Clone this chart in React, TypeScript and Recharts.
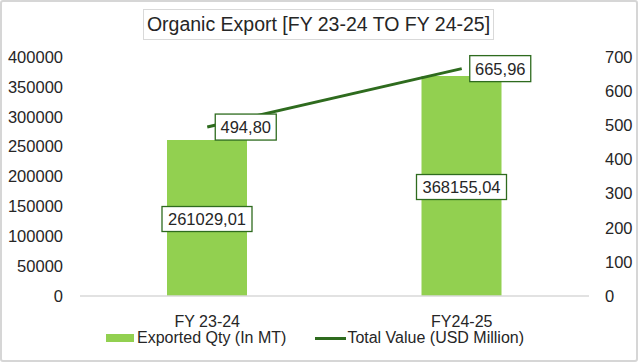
import {
  Bar,
  ComposedChart,
  LabelList,
  Legend,
  Line,
  XAxis,
  YAxis
} from "recharts";

const years = ["FY 23-24", "FY24-25"];
const exportedQty = [261029.01, 368155.04];
const totalValue = [494.8, 665.96];
const qtyTicks = [0, 50000, 100000, 150000, 200000, 250000, 300000, 350000, 400000];
const valueTicks = [0, 100, 200, 300, 400, 500, 600, 700];

const data = years.map((year, i) => ({
  year,
  qty: exportedQty[i],
  value: totalValue[i]
}));

const FONT = "'Liberation Sans', Arial, sans-serif";
const BAR_GREEN = "#92d050";
const LINE_GREEN = "#2e6b1e";
const TEXT = "#262626";

const fmt = (v: number) => v.toFixed(2).replace(".", ",");

// boxed data label, centred on the bar
function BarBoxLabel(props: any) {
  const { x, y, width, height, value } = props;
  const cx = x + width / 2;
  const cy = y + height / 2 + 1;
  const w = 90;
  const h = 25;
  return (
    <g>
      <rect x={cx - w / 2} y={cy - h / 2} width={w} height={h} fill="#fff" stroke={LINE_GREEN} strokeWidth={1.3} />
      <text x={cx} y={cy} textAnchor="middle" dominantBaseline="central" fontSize={16.5} fill={TEXT} fontFamily={FONT}>
        {fmt(value)}
      </text>
    </g>
  );
}

// boxed data label, to the right of the point
function LineBoxLabel(props: any) {
  const { x, y, value } = props;
  const w = 61;
  const h = 26;
  const left = x + 8;
  return (
    <g>
      <rect x={left} y={y - h / 2} width={w} height={h} fill="#fff" stroke={LINE_GREEN} strokeWidth={1.3} />
      <text x={left + w / 2} y={y} textAnchor="middle" dominantBaseline="central" fontSize={16.5} fill={TEXT} fontFamily={FONT}>
        {fmt(value)}
      </text>
    </g>
  );
}

function LegendContent() {
  return (
    <div style={{ display: "flex", alignItems: "center", fontFamily: FONT, fontSize: 16, color: TEXT, paddingLeft: 106 }}>
      <span style={{ display: "inline-block", width: 28, height: 8, background: BAR_GREEN, marginRight: 3 }} />
      <span>Exported Qty (In MT)</span>
      <span style={{ display: "inline-block", width: 31, height: 3, background: LINE_GREEN, marginLeft: 29, marginRight: 1 }} />
      <span>Total Value (USD Million)</span>
    </div>
  );
}

export default function App() {
  return (
    <div style={{ position: "absolute", left: 0, top: 0, width: 638, height: 362, background: "#fff" }}>
      <div
        style={{
          position: "absolute",
          left: 143,
          top: 9,
          width: 351,
          height: 31,
          boxSizing: "border-box",
          border: "1px solid #d9d9d9",
          fontFamily: FONT,
          fontSize: 19.5,
          color: TEXT,
          textAlign: "center",
          lineHeight: "29px",
          whiteSpace: "nowrap"
        }}
      >
        Organic Export [FY 23-24 TO FY 24-25]
      </div>
      <ComposedChart
        width={638}
        height={362}
        data={data}
        margin={{ top: 57, right: 0, left: 0, bottom: 36 }}
        style={{ fontFamily: FONT }}
      >
        <XAxis
          dataKey="year"
          height={30}
          tickLine={false}
          axisLine={{ stroke: "#d9d9d9", strokeWidth: 1.5 }}
          tickMargin={14}
          tick={{ fontSize: 16, fill: TEXT }}
        />
        <YAxis
          yAxisId="qty"
          width={80}
          domain={[0, 400000]}
          ticks={qtyTicks}
          interval={0}
          axisLine={false}
          tickLine={false}
          tickMargin={11}
          tick={{ fontSize: 16.5, fill: TEXT }}
        />
        <YAxis
          yAxisId="value"
          orientation="right"
          width={49}
          domain={[0, 700]}
          ticks={valueTicks}
          interval={0}
          axisLine={false}
          tickLine={false}
          tickMargin={10}
          tick={{ fontSize: 16.5, fill: TEXT }}
        />
        <Legend
          layout="horizontal"
          verticalAlign="middle"
          align="center"
          content={<LegendContent />}
          wrapperStyle={{ position: "absolute", top: 329, left: 0, width: 638 }}
        />
        <Bar yAxisId="qty" dataKey="qty" name="Exported Qty (In MT)" fill={BAR_GREEN} barSize={80} isAnimationActive={false}>
          <LabelList dataKey="qty" content={<BarBoxLabel />} />
        </Bar>
        <Line
          yAxisId="value"
          dataKey="value"
          name="Total Value (USD Million)"
          stroke={LINE_GREEN}
          strokeWidth={3}
          dot={false}
          activeDot={false}
          isAnimationActive={false}
        >
          <LabelList dataKey="value" content={<LineBoxLabel />} />
        </Line>
      </ComposedChart>
      <div
        style={{
          position: "absolute",
          left: 0,
          top: 0,
          width: 638,
          height: 362,
          boxSizing: "border-box",
          border: "2px solid #d6d6d6",
          borderRadius: 3,
          pointerEvents: "none"
        }}
      />
    </div>
  );
}
